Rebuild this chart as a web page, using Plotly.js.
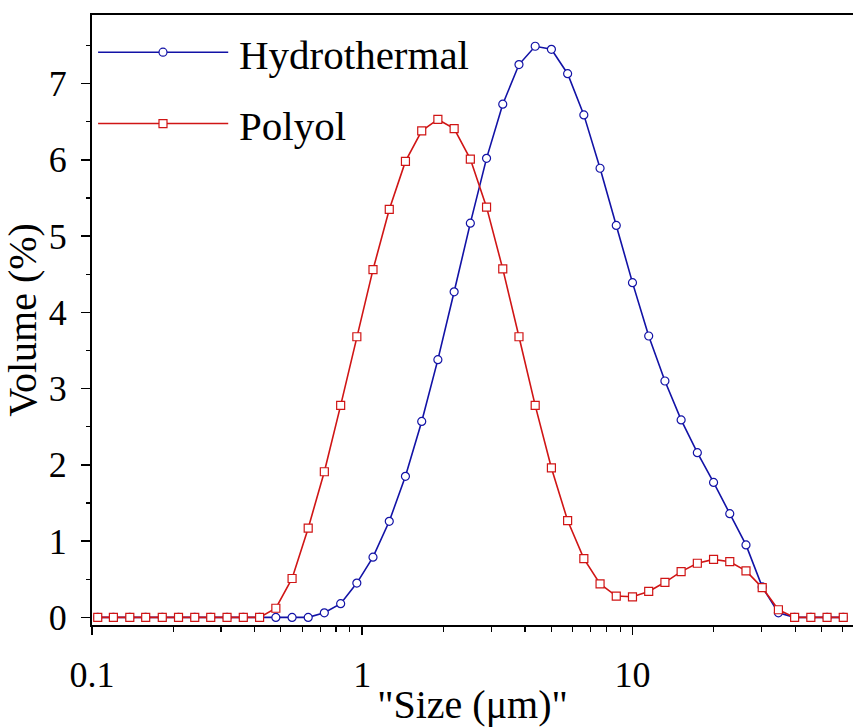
<!DOCTYPE html>
<html>
<head>
<meta charset="utf-8">
<script src="https://cdn.plot.ly/plotly-3.0.1.min.js"></script>
<style>html,body{margin:0;padding:0;background:#fff;}#chart{width:853px;height:727px;}</style>
</head>
<body>
<div id="chart"></div>
<script>
// Particle size bins (µm)
const sizes = [0.105, 0.120, 0.138, 0.158, 0.182, 0.209, 0.240, 0.275, 0.316, 0.363,
  0.417, 0.479, 0.550, 0.631, 0.724, 0.832, 0.955, 1.096, 1.259, 1.445,
  1.660, 1.905, 2.188, 2.512, 2.884, 3.311, 3.802, 4.365, 5.012, 5.754,
  6.607, 7.586, 8.710, 10.000, 11.482, 13.183, 15.136, 17.378, 19.953, 22.909,
  26.303, 30.200, 34.674, 39.811, 45.709, 52.481, 60.256];

// Volume (%) series
const hydrothermal = [0, 0, 0, 0, 0, 0, 0, 0, 0, 0,
  0, 0, 0, 0, 0.06, 0.18, 0.45, 0.79, 1.26, 1.85,
  2.57, 3.38, 4.27, 5.17, 6.02, 6.73, 7.25, 7.49, 7.45, 7.13,
  6.59, 5.89, 5.14, 4.39, 3.69, 3.10, 2.59, 2.16, 1.77, 1.36,
  0.95, 0.40, 0.06, 0, 0, 0, 0];

const polyol = [0, 0, 0, 0, 0, 0, 0, 0, 0, 0,
  0, 0.12, 0.51, 1.17, 1.91, 2.78, 3.68, 4.56, 5.35, 5.98,
  6.38, 6.53, 6.41, 6.01, 5.38, 4.57, 3.68, 2.78, 1.96, 1.27,
  0.77, 0.44, 0.28, 0.27, 0.34, 0.46, 0.60, 0.71, 0.76, 0.73,
  0.61, 0.39, 0.10, 0, 0, 0, 0];

const seriesNames = ["Hydrothermal", "Polyol"];
const yTickVals = [0, 1, 2, 3, 4, 5, 6, 7];
const xTickVals = [0.1, 1, 10];
const xTickText = ["0.1", "1", "10"];

const BLUE = "#1212a6";
const RED = "#d01515";
const FONT = "Liberation Serif, Times New Roman, serif";

const traces = [
  {x: sizes, y: hydrothermal, name: seriesNames[0], type: "scatter", mode: "lines+markers",
   line: {color: BLUE, width: 1.6},
   marker: {symbol: "circle", size: 8, color: "#fff", line: {color: BLUE, width: 1.2}}},
  {x: sizes, y: polyol, name: seriesNames[1], type: "scatter", mode: "lines+markers",
   line: {color: RED, width: 1.6},
   marker: {symbol: "square", size: 8, color: "#fff", line: {color: RED, width: 1.2}}}
];

// custom legend (long sample lines as in the original)
const legRows = [0.939, 0.822];
const legColors = [BLUE, RED];
const legSymbols = ["circle", "rect"];
const shapes = [];
const annotations = [];
for (let i = 0; i < 2; i++) {
  shapes.push({type: "line", xref: "paper", yref: "paper", x0: 0.008, x1: 0.179, y0: legRows[i], y1: legRows[i],
    line: {color: legColors[i], width: 1.5}});
  shapes.push({type: legSymbols[i], xref: "paper", yref: "paper", xsizemode: "pixel", ysizemode: "pixel",
    xanchor: 0.0933, yanchor: legRows[i], x0: -4, x1: 4, y0: -4, y1: 4,
    fillcolor: "#fff", line: {color: legColors[i], width: 1.2}});
  annotations.push({xref: "paper", yref: "paper", x: 0.191, y: legRows[i] - 0.004, xanchor: "left", yanchor: "middle",
    text: seriesNames[i], showarrow: false, font: {family: FONT, size: 41, color: "#000"}});
}

const layout = {
  width: 853, height: 727,
  margin: {l: 92, r: 0, t: 15, b: 102},
  paper_bgcolor: "#fff", plot_bgcolor: "#fff",
  showlegend: false,
  font: {family: FONT, color: "#000"},
  xaxis: {
    type: "log", range: [-1, 1.816],
    tickvals: xTickVals, ticktext: xTickText,
    ticks: "outside", ticklen: 8, tickwidth: 1.5, tickcolor: "#000",
    minor: {tickvals: [0.2,0.3,0.4,0.5,0.6,0.7,0.8,0.9,2,3,4,5,6,7,8,9,20,30,40,50,60], ticks: "outside", ticklen: 5, tickwidth: 1.2, tickcolor: "#000"},
    showline: true, linecolor: "#000", linewidth: 2, mirror: true,
    showgrid: false, zeroline: false,
    tickfont: {family: FONT, size: 36, color: "#000"},
    ticklabelstandoff: 9,
    title: {text: "\"Size (μm)\"", font: {family: FONT, size: 40, color: "#000"}, standoff: 4},
    automargin: false
  },
  yaxis: {
    range: [-0.1, 7.9],
    tickvals: yTickVals,
    ticks: "outside", ticklen: 9, tickwidth: 1.5, tickcolor: "#000",
    minor: {dtick: 0.5, ticks: "outside", ticklen: 4, tickwidth: 1.2, tickcolor: "#000"},
    showline: true, linecolor: "#000", linewidth: 2, mirror: false,
    showgrid: false, zeroline: false,
    tickfont: {family: FONT, size: 36, color: "#000"},
    ticklabelstandoff: 7,
    title: {text: "Volume (%)", font: {family: FONT, size: 40, color: "#000"}, standoff: 4},
    automargin: false
  },
  shapes: shapes,
  annotations: annotations
};

Plotly.newPlot("chart", traces, layout, {displayModeBar: false, staticPlot: true});
</script>
</body>
</html>
